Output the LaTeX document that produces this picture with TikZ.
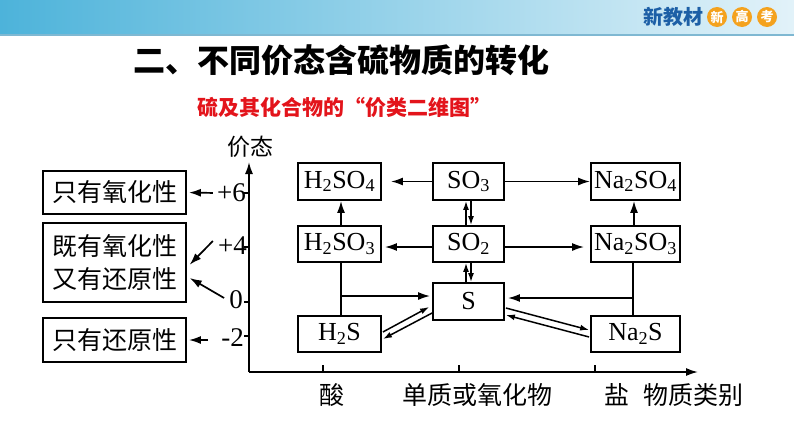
\documentclass[tikz,border=0pt]{standalone}
\usepackage{fontspec}
\setmainfont{Liberation Serif}
\newfontfamily\cjk{Noto Sans CJK SC}
\usetikzlibrary{arrows.meta,calc}
\definecolor{barL}{HTML}{4DB3DA}
\definecolor{barR}{HTML}{E2F2F9}
\definecolor{barline}{HTML}{7FB8D2}
\definecolor{hdblue}{HTML}{1C5FA6}
\definecolor{hdorange}{HTML}{F4A21E}
\definecolor{subred}{HTML}{E3141B}
\begin{document}
\begin{tikzpicture}[x=1pt,y=-1pt,
  fbox/.style={draw,line width=1.8pt,minimum height=37pt,inner sep=0pt,font=\fontsize{26}{30}\selectfont},
  lbox/.style={draw,line width=1.8pt,minimum width=143pt,inner sep=0pt,align=center,font=\cjk\fontsize{25}{33}\selectfont},
  cj/.style={inner sep=0pt,font=\cjk\fontsize{25}{28}\selectfont},
  num/.style={inner sep=1pt,anchor=east,font=\fontsize{27}{28}\selectfont},
  arr/.style={line width=1.7pt,-{Latex[length=12pt,width=8pt]}},
  sarr/.style={line width=1.5pt,-{Latex[length=9pt,width=6pt]}},
  ln/.style={line width=1.7pt},
  dot/.style={circle,fill=hdorange,text=white,minimum width=18pt,minimum height=20pt,inner sep=0pt,font=\cjk\bfseries\fontsize{13}{13}\selectfont}]
\useasboundingbox (0,0) rectangle (794,447);
\fill[white] (0,0) rectangle (794,447);
% header
\shade[left color=barL,right color=barR] (0,0) rectangle (794,35);
\draw[barline,line width=1.2pt] (0,35) -- (794,35);
\node[inner sep=0pt,text=hdblue,font=\cjk\bfseries\fontsize{20}{20}\selectfont] (hd) at (673,17) {新教材};
\node[dot] (d1) at (717,17) {新};
\node[dot] (d2) at (742,17) {高};
\node[dot] (d3) at (767,17) {考};
% titles
\node[inner sep=0pt,font=\cjk\bfseries\fontsize{32}{34}\selectfont] (title) at (341,60) {二、不同价态含硫物质的转化};
\node[inner sep=0pt,text=subred,font=\cjk\bfseries\fontsize{21}{24}\selectfont] (sub) at (344,107) {硫及其化合物的“价类二维图”};
% axes
\coordinate (O) at (249,372);
\coordinate (ytop) at (249,162);
\coordinate (xend) at (698,372);
\draw[arr] (O) -- (ytop);
\draw[arr] (O) -- (xend);
\node[cj,font=\cjk\fontsize{23}{26}\selectfont] (ylab) at (250,147) {价态};
\foreach \yy in {193,247,302,336} \draw[ln] (244,\yy) -- (249,\yy);
\foreach \xx in {323,459,595} \draw[ln] (\xx,365) -- (\xx,372);
\node[cj] (xa) at (332,395) {酸};
\node[cj] (xb) at (477,395) {单质或氧化物};
\node[cj] (xc) at (617,395) {盐};
\node[cj] (xd) at (693,395) {物质类别};
% valence labels
\node[num] (t6) at (247,193) {+6};
\node[num] (t4) at (248,246) {+4};
\node[num] (t0) at (244,300) {0};
\node[num] (tm) at (245,338) {-2};
% left boxes
\node[lbox,minimum height=43pt] (b1) at (114.5,192.5) {只有氧化性};
\node[lbox,minimum height=79pt] (b2) at (114.5,262.5) {既有氧化性\\又有还原性};
\node[lbox,minimum height=44pt] (b3) at (114.5,340) {只有还原性};
\draw[arr,shorten <=3pt,shorten >=2pt] (t6.west) -- (b1.east);
\draw[arr,shorten >=1pt] ($(t4.west)+(-4,-5)$) -- ($(b2.east)+(2,3)$);
\draw[arr,shorten >=1pt] ($(t0.west)+(-4,-2)$) -- ($(b2.east)+(2,15)$);
\draw[arr,shorten <=12pt,shorten >=2pt] (tm.west |- b3.east) -- (b3.east);
% formula boxes
\node[fbox,minimum width=83pt] (H2SO4) at (339.5,181.5) {H\textsubscript{2}SO\textsubscript{4}};
\node[fbox,minimum width=71pt] (SO3) at (468.5,181.5) {SO\textsubscript{3}};
\node[fbox,minimum width=89pt] (Na2SO4) at (635.5,181.5) {Na\textsubscript{2}SO\textsubscript{4}};
\node[fbox,minimum width=83pt,minimum height=36pt] (H2SO3) at (339.5,244) {H\textsubscript{2}SO\textsubscript{3}};
\node[fbox,minimum width=71pt,minimum height=36pt] (SO2) at (468.5,244) {SO\textsubscript{2}};
\node[fbox,minimum width=89pt,minimum height=36pt] (Na2SO3) at (635.5,244) {Na\textsubscript{2}SO\textsubscript{3}};
\node[fbox,minimum width=71pt] (S) at (468.5,301.5) {S};
\node[fbox,minimum width=83pt,minimum height=36pt] (H2S) at (339.5,334) {H\textsubscript{2}S};
\node[fbox,minimum width=89pt,minimum height=36pt] (Na2S) at (635.5,334) {Na\textsubscript{2}S};
% horizontal arrows
\draw[arr,shorten >=9pt] (SO3.west) -- (H2SO4.east);
\draw[arr] (SO3.east) -- (Na2SO4.west);
\draw[arr,shorten >=3pt] ($(SO2.west)+(0,3)$) -- ($(H2SO3.east)+(0,3)$);
\draw[arr,shorten >=6pt] ($(SO2.east)+(0,3)$) -- ($(Na2SO3.west)+(0,3)$);
% vertical arrows
\draw[arr] ($(H2SO3.north)+(1.5,0)$) -- ($(H2SO4.south)+(1.5,0)$);
\draw[arr] ($(Na2SO3.north)+(-1.5,0)$) -- ($(Na2SO4.south)+(-1.5,0)$);
% double arrows SO3/SO2/S
\draw[sarr] ($(SO2.north)+(-2.5,0)$) -- ($(SO3.south)+(-2.5,0)$);
\draw[sarr] ($(SO3.south)+(2.5,0)$) -- ($(SO2.north)+(2.5,0)$);
\draw[sarr] ($(S.north)+(-2.5,0)$) -- ($(SO2.south)+(-2.5,0)$);
\draw[sarr] ($(SO2.south)+(2.5,0)$) -- ($(S.north)+(2.5,0)$);
% branches to S
\draw[ln] ($(H2SO3.south)+(1.5,0)$) -- ($(H2S.north)+(1.5,0)$);
\coordinate (j1) at (341,296);
\draw[arr,shorten >=2pt] (j1) -- (j1 -| S.west);
\draw[ln] ($(Na2SO3.south)+(-2.5,0)$) -- ($(Na2S.north)+(-2.5,0)$);
\coordinate (j2) at (633,298);
\draw[arr,shorten >=3pt] (j2) -- (j2 -| S.east);
% diagonal pairs
\draw[sarr] ($(H2S.east)+(1,-2)$) -- ($(S.west)+(-3,5.5)$);
\draw[sarr] ($(S.west)+(0,11.5)$) -- ($(H2S.east)+(1,5)$);
\draw[sarr] ($(S.east)+(1,6.5)$) -- ($(Na2S.west)+(-1,-4)$);
\draw[sarr] ($(Na2S.west)+(-1,3)$) -- ($(S.east)+(1,13.5)$);
\end{tikzpicture}
\end{document}
